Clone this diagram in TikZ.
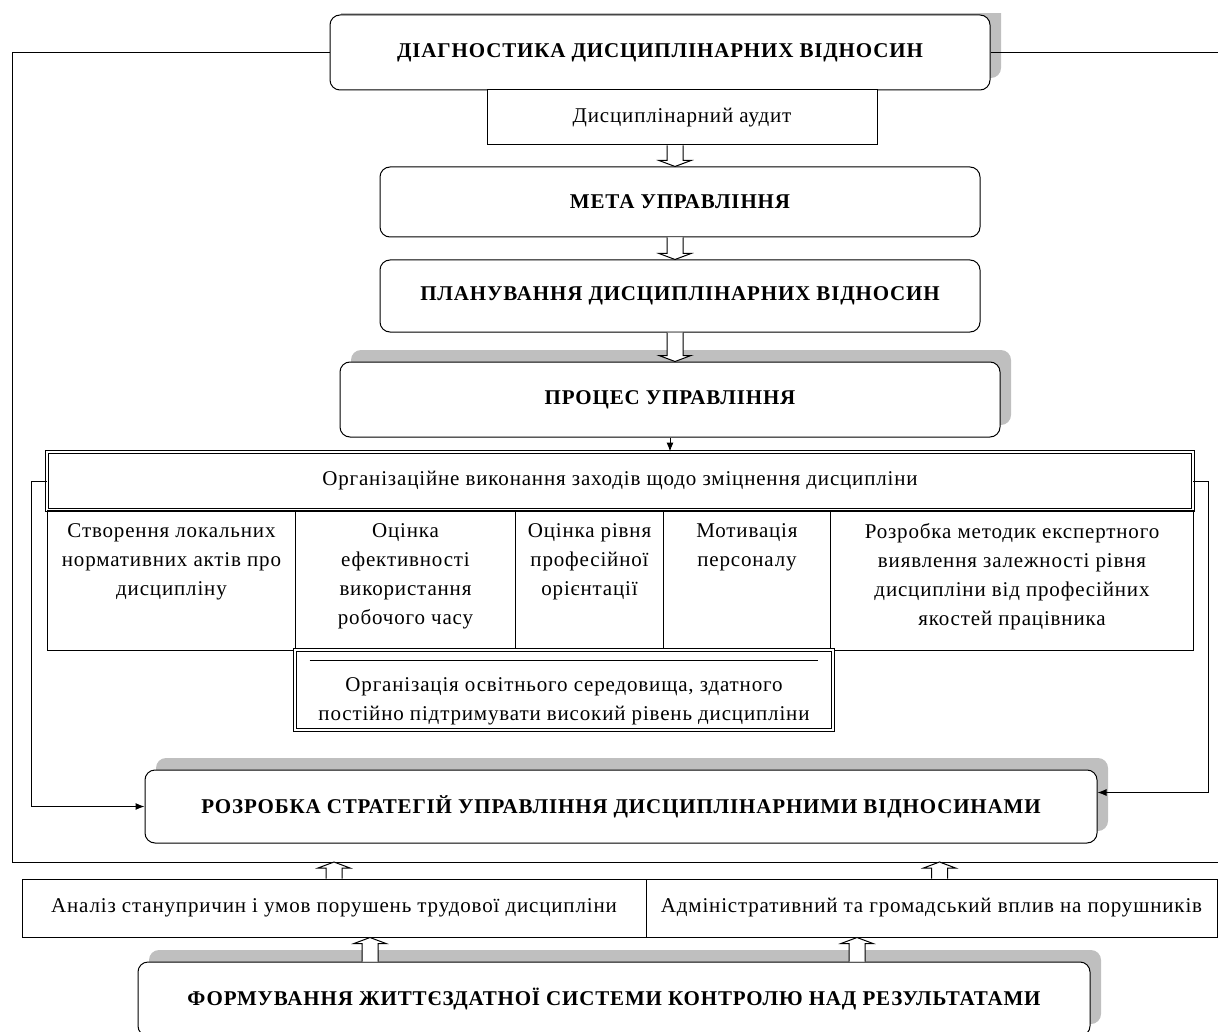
\documentclass[tikz,border=0pt]{standalone}
\usepackage{fontspec}
\setmainfont{Liberation Serif}[LetterSpace=4]
\usetikzlibrary{arrows.meta,positioning,calc,shadows}

\newcommand{\chartfont}{\fontsize{21}{29}\selectfont}
\newcommand{\celltext}[2]{\parbox[t][114pt][t]{#1}{\centering #2}}
\newcommand{\hollowarrow}[2]{%
  \draw[line width=1pt, fill=white] let \p1=(#1), \p2=(#2), \n1={6*sign(\y1-\y2)} in
    ({\x1-8pt},{\y1}) -- ({\x1-8pt},{\y2+\n1*1pt}) -- ({\x1-16pt},{\y2+\n1*1pt})
    -- ({\x1},{\y2}) -- ({\x1+16pt},{\y2+\n1*1pt}) -- ({\x1+8pt},{\y2+\n1*1pt})
    -- ({\x1+8pt},{\y1});}

\tikzset{
  every node/.style={font=\chartfont},
  headbox/.style={draw, rectangle, rounded corners=10pt, fill=white, line width=1pt,
    font=\chartfont\bfseries, align=center, inner sep=0pt},
  shadowed/.style={drop shadow={shadow xshift=11pt, shadow yshift=12pt, fill=black!25, opacity=1}},
  plainbox/.style={draw, rectangle, fill=white, line width=1pt, align=center, inner sep=0pt},
  dblbox/.style={plainbox, double, double distance=2pt, line width=0.8pt},
  cellbox/.style={draw, rectangle, line width=1pt, inner xsep=5pt, inner ysep=13pt, anchor=north west},
  link/.style={line width=1pt, -{Latex[length=9pt,width=7pt]}},
  loopline/.style={line width=1pt}
}

\begin{document}
\begin{tikzpicture}[x=1pt, y=-1pt]
  \useasboundingbox (0,0) rectangle (1218,1032);
  \clip (0,0) rectangle (1218,1032);

  % Main chain
  \begin{scope}
    \clip (0,14) rectangle (1218,1032);
    \node[headbox, shadowed, minimum width=660pt, minimum height=75pt] (diag) at (660,52.5)
      {ДІАГНОСТИКА ДИСЦИПЛІНАРНИХ ВІДНОСИН};
  \end{scope}
  \node[plainbox, minimum width=390pt, minimum height=55pt] (audit) at (682,117.5) {Дисциплінарний аудит};
  \node[headbox, minimum width=600pt, minimum height=70pt] (meta) at (680,202) {МЕТА УПРАВЛІННЯ};
  \node[headbox, minimum width=600pt, minimum height=72pt] (plan) at (680,296) {ПЛАНУВАННЯ ДИСЦИПЛІНАРНИХ ВІДНОСИН};
  \node[headbox, shadowed, minimum width=660pt, minimum height=75pt] (proc) at (670,399.5) {ПРОЦЕС УПРАВЛІННЯ};

  % Table of measures
  \node[dblbox, minimum width=1146pt, minimum height=58pt] (orgrow) at (620,481)
    {Організаційне виконання заходів щодо зміцнення дисципліни};
  \node[cellbox] (cella) at (47,510) {\celltext{238pt}{Створення локальних\\ нормативних актів про\\ дисципліну}};
  \node[cellbox] (cellb) at (295,510) {\celltext{210pt}{Оцінка\\ ефективності\\ використання\\ робочого часу}};
  \node[cellbox] (cellc) at (515,510) {\celltext{138pt}{Оцінка рівня\\ професійної\\ орієнтації}};
  \node[cellbox] (celld) at (663,510) {\celltext{157pt}{Мотивація\\ персоналу}};
  \node[cellbox] (celle) at (830,510) {\celltext{353pt}{Розробка методик експертного\\ виявлення залежності рівня\\ дисципліни від професійних\\ якостей працівника}};
  \node[dblbox, minimum width=538pt, minimum height=80pt] (edu) at (564,690)
    {\parbox[c][66pt][b]{528pt}{\centering Організація освітнього середовища, здатного\\ постійно підтримувати високий рівень дисципліни}};
  \draw[line width=1pt] ([xshift=15pt, yshift=-11pt]edu.north west) -- ([xshift=-15pt, yshift=-11pt]edu.north east);

  % Strategy and control
  \node[headbox, shadowed, minimum width=952pt, minimum height=73pt] (rozr) at (621,806.5)
    {РОЗРОБКА СТРАТЕГІЙ УПРАВЛІННЯ ДИСЦИПЛІНАРНИМИ ВІДНОСИНАМИ};
  \node[plainbox, minimum width=624pt, minimum height=58pt] (anal) at (334,908)
    {Аналіз станупричин і умов порушень трудової дисципліни};
  \node[plainbox, minimum width=571pt, minimum height=58pt] (admin) at (931.5,908)
    {Адміністративний та громадський вплив на порушників};
  \node[headbox, shadowed, minimum width=952pt, minimum height=74pt] (form) at (614,999)
    {ФОРМУВАННЯ ЖИТТЄЗДАТНОЇ СИСТЕМИ КОНТРОЛЮ НАД РЕЗУЛЬТАТАМИ};

  % Feedback lines
  \coordinate (loopL) at (12,862);
  \coordinate (loopR) at (1240,862);
  \coordinate (topR) at (1240,52.5);
  \draw[loopline] (diag.west) -| (loopL) -- (loopR);
  \draw[loopline] (diag.east) -- (topR);
  \draw[link] (orgrow.west) -- ++(-15,0) |- (rozr.west);
  \draw[link] (orgrow.east) -- ++(15,0) |- ([yshift=14pt]rozr.east);
  \draw[link] (proc.south) -- (proc.south |- orgrow.north);

  % Block arrows
  \hollowarrow{[xshift=-7pt]audit.south}{meta.north}
  \hollowarrow{[xshift=-5pt]meta.south}{plan.north}
  \hollowarrow{[xshift=-5pt]plan.south}{proc.north}
  \hollowarrow{anal.north}{loopL}
  \hollowarrow{[xshift=8pt]admin.north}{loopL}
  \hollowarrow{$(form.north)+(-244,0)$}{anal.south}
  \hollowarrow{$(form.north)+(243,0)$}{admin.south}
\end{tikzpicture}
\end{document}
